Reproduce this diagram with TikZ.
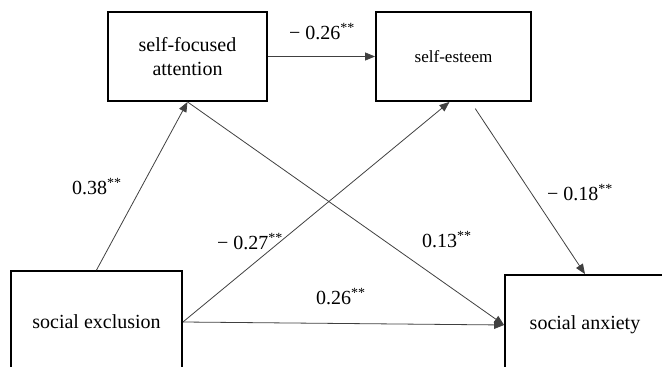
\documentclass[tikz,border=0pt]{standalone}
\usepackage{fontspec}
\setmainfont{Liberation Serif}
\newfontfamily\timesfont{Liberation Serif}
\usetikzlibrary{arrows.meta}

\begin{document}
\begin{tikzpicture}[x=0.75pt,y=-0.75pt,
  var/.style={draw,line width=1.4pt,rectangle,inner sep=0pt,align=center,font=\timesfont\fontsize{15}{18}\selectfont},
  link/.style={draw=black!75,line width=0.6pt,-{Triangle[length=7.5pt,width=6pt]}},
  coef/.style={font=\timesfont\fontsize{15}{18}\selectfont,inner sep=0pt}]
\useasboundingbox (0,0) rectangle (662,367);
% variables
\node[var,minimum width=119.25pt,minimum height=66.75pt] (attn) at (187.5,56.5) {self-focused\\attention};
\node[var,minimum width=116.25pt,minimum height=66.75pt,font=\timesfont\fontsize{12.8}{15}\selectfont] (esteem) at (453.5,56.5) {self-esteem};
\node[var,minimum width=128.25pt,minimum height=76.5pt] (excl) at (96.5,322) {social exclusion};
\node[var,minimum width=120pt,minimum height=75pt] (anx) at (585,325) {social anxiety};
% paths
\draw[link] (excl.north) -- (attn.south);
\draw[link] (attn.east) -- (esteem.west);
\draw[link] (excl.east) -- ([xshift=-3pt]esteem.south);
\draw[link] (attn.south) -- (anx.west);
\draw[link] (excl.east) -- (anx.west);
\draw[link,shorten <=6pt] ([xshift=13pt]esteem.south) -- (anx.north);
% coefficients
\node[coef] (c1) at (322,32) {− 0.26\textsuperscript{**}};
\node[coef] (c2) at (97,187) {0.38\textsuperscript{**}};
\node[coef] (c3) at (250,242) {− 0.27\textsuperscript{**}};
\node[coef] (c4) at (447,240) {0.13\textsuperscript{**}};
\node[coef] (c5) at (341,297) {0.26\textsuperscript{**}};
\node[coef] (c6) at (580,193) {− 0.18\textsuperscript{**}};
\end{tikzpicture}
\end{document}
